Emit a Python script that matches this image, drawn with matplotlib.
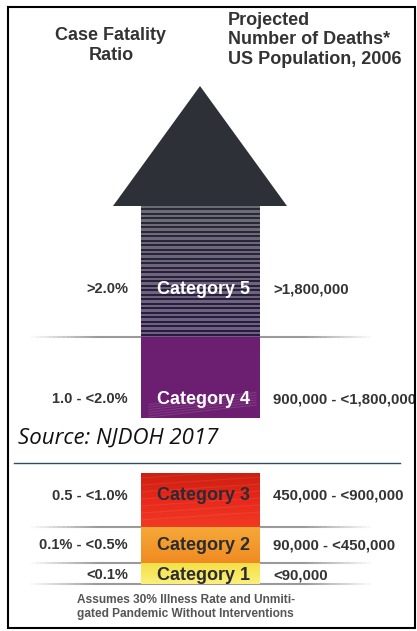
import numpy as np
import matplotlib.pyplot as plt
from matplotlib.collections import LineCollection
from matplotlib.colors import LinearSegmentedColormap, to_rgb
from matplotlib.patches import Rectangle

# pandemic severity categories, top (most severe) to bottom
categories = ["Category 5", "Category 4", "Category 3", "Category 2", "Category 1"]
cfr_labels = [">2.0%", "1.0 - <2.0%", "0.5 - <1.0%", "0.1% - <0.5%", "<0.1%"]
death_labels = [">1,800,000", "900,000 - <1,800,000", "450,000 - <900,000",
                "90,000 - <450,000", "<90,000"]
# vertical extent of each band (pixel rows of the original graphic)
band_top = [206, 337, 473, 527, 563]
band_bottom = [337, 418, 527, 563, 584]
label_y = [289, 399, 496, 545, 575]
text_colors = ["white", "white", "#2b2b33", "#2b2b33", "#2b2b33"]

W, H = 417, 631
COL_X0, COL_X1 = 141, 260
COL_C = (COL_X0 + COL_X1) / 2
DARK = "#2e3038"
LABEL = "#333333"

fig = plt.figure(figsize=(W / 100, H / 100), dpi=100)
ax = fig.add_axes([0, 0, 1, 1])
ax.set_xlim(0, W)
ax.set_ylim(H, 0)
ax.axis("off")

# outer frame
ax.plot([8, 415, 415, 8, 8], [7, 7, 628, 628, 7], color="black", lw=1.5,
        solid_joinstyle="miter", zorder=5)
clip = Rectangle((8, 7), 407, 621, transform=ax.transData, visible=False)
ax.add_patch(clip)


def vgrad(x0, x1, y0, y1, colors, z=2):
    cmap = LinearSegmentedColormap.from_list("g", colors)
    grad = np.linspace(0, 1, 64).reshape(-1, 1)
    ax.imshow(grad, cmap=cmap, extent=[x0, x1, y1, y0], aspect="auto",
              zorder=z, interpolation="bilinear")


def fade_line(y, x0=27, x1=375, color="#9a9a9a", lw=1.5):
    xs = np.linspace(x0, x1, 80)
    segs = [[(xs[i], y), (xs[i + 1], y)] for i in range(len(xs) - 1)]
    t = np.linspace(0, 1, len(segs))
    a = np.clip(np.minimum(t, 1 - t) * 5, 0, 1)
    rgb = to_rgb(color)
    lc = LineCollection(segs, colors=[(*rgb, v) for v in a], linewidths=lw,
                        zorder=1)
    ax.add_collection(lc)


# arrow head and solid top of shaft
ax.fill([113, 200, 287], [206, 86, 206], color=DARK, lw=0, zorder=2)
ax.bar(COL_C, 3, width=COL_X1 - COL_X0, bottom=204, color=DARK, zorder=2)

# category 5: horizontal stripes fading toward purple
n_rows = band_bottom[0] - band_top[0]
stripe = np.zeros((n_rows * 4, 1, 3))
light0, light1 = np.array(to_rgb("#6c6c78")), np.array(to_rgb("#6e5f82"))
dark0, dark1 = np.array(to_rgb("#2a2a34")), np.array(to_rgb("#281b3e"))
for r in range(n_rows * 4):
    f = r / (n_rows * 4 - 1)
    on = (r // 9) % 2 == 0
    stripe[r, 0] = (light0 * (1 - f) + light1 * f) if on else (dark0 * (1 - f) + dark1 * f)
ax.imshow(stripe, extent=[COL_X0, COL_X1, band_bottom[0], band_top[0]],
          aspect="auto", zorder=2, interpolation="nearest")

# category 4: purple
ax.bar(COL_C, band_bottom[1] - band_top[1], width=COL_X1 - COL_X0,
       bottom=band_top[1], color="#6c1f70", zorder=2)
for k in range(6):
    ax.plot([COL_X0 + 8, COL_X1 - 4], [417 - k * 2.5, 405 - k * 2.5],
            color="white", alpha=0.12, lw=0.8, zorder=3)

# categories 3, 2, 1: gradients
vgrad(COL_X0, COL_X1, band_top[2], band_bottom[2], ["#cc2010", "#e8281c", "#f03a22"])
vgrad(COL_X0, COL_X1, band_top[3], band_bottom[3], ["#f4a838", "#f39a2c", "#f08a22"])
vgrad(COL_X0, COL_X1, band_top[4], band_bottom[4], ["#f5e04a", "#f8e85e", "#fbef7a"])
for k in range(7):
    ax.plot([COL_X0, COL_X1], [478 + k * 7, 470 + k * 7], color="white",
            alpha=0.08, lw=0.8, zorder=3)

# separators
for y in [337, 527, 563, 584]:
    fade_line(y)

# source caption block
ax.text(18, 444, "Source: NJDOH 2017", fontsize=16, style="italic",
        family="Open Sans", color="#111111", va="baseline", ha="left")
ax.plot([14, 400], [463, 463], color="#2f4f5f", lw=1.0)

# headers
ax.text(111, 60, "Case Fatality\nRatio", ha="center", va="baseline",
        fontsize=13, fontweight="bold", color=LABEL, family="Liberation Sans",
        linespacing=1.2)
ax.text(228, 64, "Projected\nNumber of Deaths*\nUS Population, 2006",
        ha="left", va="baseline", fontsize=13, fontweight="bold",
        color=LABEL, family="Liberation Sans", linespacing=1.2)

# row labels
for cat, cfr, d, y, tc in zip(categories, cfr_labels, death_labels, label_y, text_colors):
    ax.text(128, y, cfr, ha="right", va="center", fontsize=10.5,
            fontweight="bold", color=LABEL, family="Liberation Sans")
    t = ax.text(273, y, d, ha="left", va="center", fontsize=10.8,
                fontweight="bold", color=LABEL, family="Liberation Sans")
    t.set_clip_path(clip)
    ax.text(COL_C + 3, y, cat, ha="center", va="center", fontsize=13,
            fontweight="bold", color=tc, family="Liberation Sans", zorder=4)

# footnote
ax.text(77, 617, "Assumes 30% Illness Rate and Unmiti-\ngated Pandemic Without Interventions",
        ha="left", va="baseline", fontsize=8.6, fontweight="bold",
        color="#555555", family="Liberation Sans", linespacing=1.25)

fig.savefig("out.png", dpi=100)
